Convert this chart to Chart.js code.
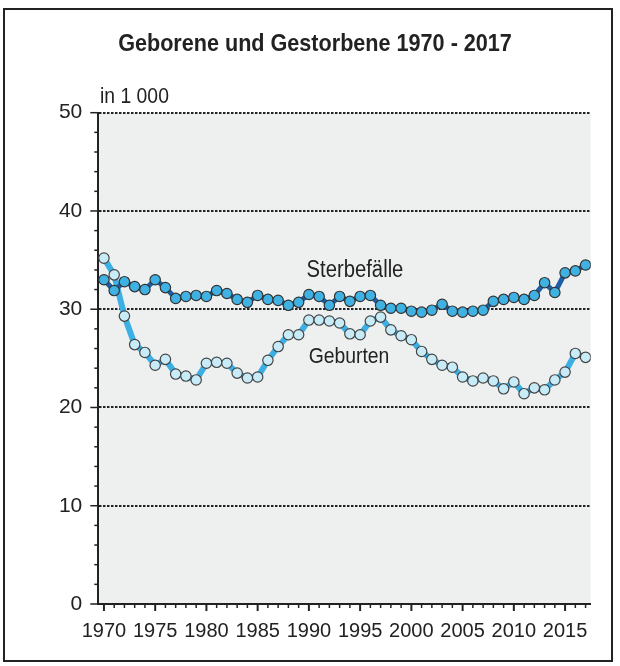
<!DOCTYPE html>
<html>
<head>
<meta charset="utf-8">
<script src="https://cdn.jsdelivr.net/npm/chart.js@4"></script>
<style>
  body { margin: 0; background: #fff; }
  canvas { display: block; }
</style>
</head>
<body>
<canvas id="chart" width="620" height="666"></canvas>
<script>
const years = [1970, 1971, 1972, 1973, 1974, 1975, 1976, 1977, 1978, 1979,
  1980, 1981, 1982, 1983, 1984, 1985, 1986, 1987, 1988, 1989,
  1990, 1991, 1992, 1993, 1994, 1995, 1996, 1997, 1998, 1999,
  2000, 2001, 2002, 2003, 2004, 2005, 2006, 2007, 2008, 2009,
  2010, 2011, 2012, 2013, 2014, 2015, 2016, 2017];

// Sterbefälle in 1 000
const deaths = [33.0, 31.9, 32.8, 32.3, 32.0, 33.0, 32.2, 31.1, 31.3, 31.4,
  31.3, 31.9, 31.6, 31.0, 30.7, 31.4, 31.0, 30.9, 30.4, 30.7,
  31.5, 31.3, 30.4, 31.3, 30.8, 31.3, 31.4, 30.4, 30.1, 30.1,
  29.8, 29.7, 29.9, 30.5, 29.8, 29.7, 29.8, 29.9, 30.8, 31.0,
  31.2, 31.0, 31.4, 32.7, 31.7, 33.7, 33.9, 34.5];

// Geburten in 1 000
const births = [35.2, 33.5, 29.3, 26.4, 25.6, 24.3, 24.9, 23.4, 23.2, 22.8,
  24.5, 24.6, 24.5, 23.5, 23.0, 23.1, 24.8, 26.2, 27.4, 27.4,
  28.9, 28.9, 28.8, 28.6, 27.5, 27.4, 28.8, 29.2, 27.9, 27.3,
  26.9, 25.7, 24.9, 24.3, 24.1, 23.1, 22.7, 23.0, 22.7, 21.9,
  22.6, 21.4, 22.0, 21.8, 22.8, 23.6, 25.5, 25.1];

const yTicks = [0, 10, 20, 30, 40, 50];
const xLabelYears = [1970, 1975, 1980, 1985, 1990, 1995, 2000, 2005, 2010, 2015];

const FONT = "'Liberation Sans', Arial, Helvetica, sans-serif";
const INK = '#222';

// draws text squeezed horizontally, the reference uses a narrow face
function narrowText(ctx, txt, x, y, font, squeeze, align) {
  ctx.save();
  ctx.font = font;
  ctx.textAlign = align || 'center';
  ctx.textBaseline = 'middle';
  ctx.translate(x, y);
  ctx.scale(squeeze, 1);
  ctx.fillText(txt, 0, 0);
  ctx.restore();
}

const decor = {
  id: 'decor',
  beforeDraw(chart) {
    const { ctx, chartArea: a } = chart;
    ctx.save();
    ctx.fillStyle = '#fff';
    ctx.fillRect(0, 0, chart.width, chart.height);
    ctx.fillStyle = '#eef0ef';
    ctx.fillRect(a.left, a.top, a.right - a.left, a.bottom - a.top);
    ctx.restore();
  },
  afterDraw(chart) {
    const { ctx, chartArea: a } = chart;
    const xs = chart.scales.x, ys = chart.scales.y;
    ctx.save();
    ctx.strokeStyle = INK;
    // tick marks on x axis: yearly, longer every 5 years
    years.forEach(yr => {
      const px = xs.getPixelForValue(yr);
      const major = xLabelYears.includes(yr);
      ctx.lineWidth = major ? 2 : 1.5;
      ctx.beginPath();
      ctx.moveTo(px, a.bottom);
      ctx.lineTo(px, a.bottom + (major ? 7 : 4));
      ctx.stroke();
    });
    // tick marks on y axis: every 2, longer every 10
    for (let v = 0; v <= 50; v += 2) {
      const py = ys.getPixelForValue(v);
      const major = yTicks.includes(v);
      ctx.lineWidth = 1.5;
      ctx.beginPath();
      ctx.moveTo(a.left, py);
      ctx.lineTo(a.left - (major ? 8 : 4), py);
      ctx.stroke();
    }
    // texts
    ctx.fillStyle = INK;
    narrowText(ctx, 'Geborene und Gestorbene 1970 - 2017', 315, 44, 'bold 24px ' + FONT, 0.9);
    narrowText(ctx, 'in 1 000', 100, 97, '22px ' + FONT, 0.88, 'left');
    narrowText(ctx, 'Sterbefälle', 355, 271, '23px ' + FONT, 0.88);
    narrowText(ctx, 'Geburten', 349, 357, '22px ' + FONT, 0.88);
    // frame
    ctx.lineWidth = 2;
    ctx.strokeRect(4, 9, 608, 652);
    ctx.restore();
  }
};

new Chart(document.getElementById('chart'), {
  type: 'line',
  data: {
    datasets: [
      {
        label: 'Sterbefälle',
        data: years.map((yr, i) => ({ x: yr, y: deaths[i] })),
        borderColor: '#1d5ea6',
        borderWidth: 5,
        backgroundColor: '#3fb2e3',
        pointBackgroundColor: '#3fb2e3',
        pointBorderColor: '#333',
        pointBorderWidth: 1.2,
        pointRadius: 5.2,
        tension: 0,
        order: 1
      },
      {
        label: 'Geburten',
        data: years.map((yr, i) => ({ x: yr, y: births[i] })),
        borderColor: '#3cb0e4',
        borderWidth: 6,
        backgroundColor: '#c8ebf8',
        pointBackgroundColor: '#c8ebf8',
        pointBorderColor: '#444',
        pointBorderWidth: 1.2,
        pointRadius: 5.2,
        tension: 0,
        order: 2
      }
    ]
  },
  options: {
    responsive: false,
    animation: false,
    layout: { padding: { left: 0, top: 112.7, right: 29.3, bottom: 0 } },
    plugins: {
      legend: { display: false },
      tooltip: { enabled: false },
      title: { display: false }
    },
    scales: {
      x: {
        type: 'linear',
        min: 1969.45,
        max: 2017.5,
        afterBuildTicks: s => { s.ticks = years.map(v => ({ value: v })); },
        afterFit: s => { s.height = 62; },
        ticks: {
          autoSkip: false,
          maxRotation: 0,
          padding: 7,
          color: INK,
          font: { family: FONT, size: 20 },
          callback: v => xLabelYears.includes(v) ? String(v) : ''
        },
        grid: { drawOnChartArea: false, tickLength: 8, tickColor: 'transparent' },
        border: { color: INK, width: 2 }
      },
      y: {
        min: 0,
        max: 50,
        afterBuildTicks: s => { s.ticks = yTicks.map(v => ({ value: v })); },
        afterFit: s => { s.width = 98.3; },
        ticks: {
          autoSkip: false,
          padding: 8,
          color: INK,
          font: { family: FONT, size: 21 },
          callback: v => String(v)
        },
        grid: {
          color: c => c.tick && c.tick.value > 0 ? INK : 'transparent',
          lineWidth: 2,
          tickLength: 8,
          tickColor: 'transparent'
        },
        border: { color: INK, width: 2, dash: [2.5, 1.5] }
      }
    }
  },
  plugins: [decor]
});
</script>
</body>
</html>
